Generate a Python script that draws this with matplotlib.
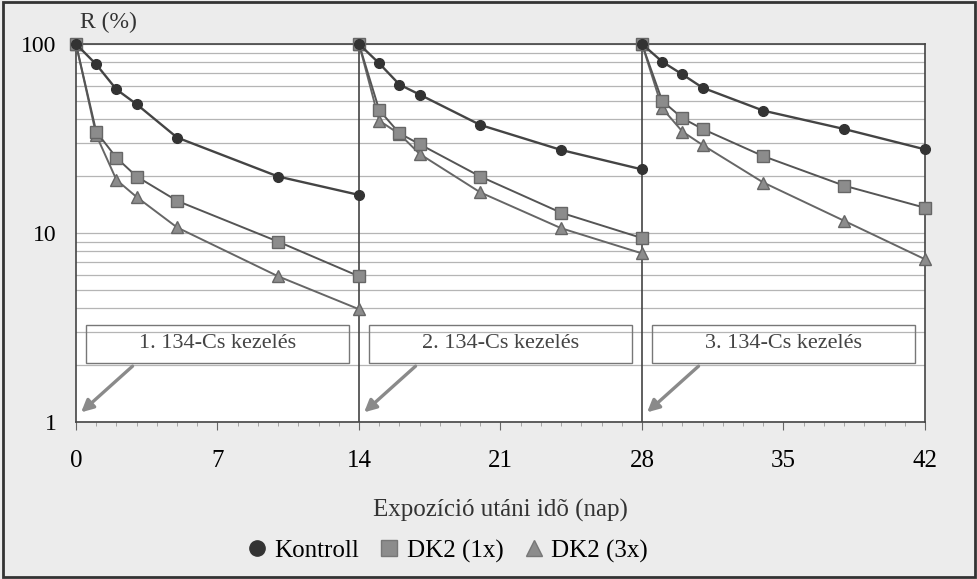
import matplotlib.pyplot as plt
import numpy as np
from matplotlib.patches import Rectangle
from matplotlib.ticker import FixedLocator, NullFormatter

# day of measurement (each treatment starts again at 100 %)
days = [0, 1, 2, 3, 5, 10, 14,
        14, 15, 16, 17, 20, 24, 28,
        28, 29, 30, 31, 34, 38, 42]
segments = [(0, 7), (7, 14), (14, 21)]

kontroll = [100, 78, 57.5, 48, 32, 19.9, 15.9,
            100, 79, 61, 54, 37.3, 27.5, 21.7,
            100, 80.6, 69, 58.7, 44.4, 35.5, 27.7]
dk2_1x = [100, 34.4, 25, 19.9, 14.8, 9.0, 5.9,
          100, 44.7, 33.7, 29.5, 19.9, 12.8, 9.4,
          100, 50, 40.5, 35.5, 25.5, 17.8, 13.6]
dk2_3x = [100, 33, 19.1, 15.5, 10.7, 5.9, 3.95,
          100, 39.3, 33.4, 26.2, 16.4, 10.6, 7.8,
          100, 45.7, 34.4, 29.2, 18.5, 11.6, 7.26]

box_labels = ["1. 134-Cs kezelés", "2. 134-Cs kezelés", "3. 134-Cs kezelés"]
box_starts = [0, 14, 28]

plt.rcParams['font.family'] = ['Liberation Serif', 'DejaVu Serif']

fig = plt.figure(figsize=(9.78, 5.79), dpi=100, facecolor='#ececec')
ax = fig.add_axes([76/978, 1-422/579, (925-76)/978, (422-44)/579])
ax.set_facecolor('white')

ax.set_yscale('log')
ax.set_ylim(1, 100)
ax.set_xlim(0, 42)

# gridlines at minor log positions
ax.yaxis.set_minor_locator(FixedLocator([k*10**e for e in (0, 1) for k in range(2, 10)]))
ax.yaxis.set_minor_formatter(NullFormatter())
ax.grid(True, which='both', axis='y', color='#b5b5b5', lw=0.9)
ax.set_yticks([1, 10, 100])
ax.set_yticklabels(['1', '10', '100'])
ax.tick_params(axis='y', which='both', length=0, labelsize=17, pad=14)

ax.set_xticks([0, 7, 14, 21, 28, 35, 42])
ax.xaxis.set_minor_locator(FixedLocator(range(0, 43)))
ax.tick_params(axis='x', which='major', length=6, color='#666', labelsize=18, pad=14)
ax.tick_params(axis='x', which='minor', length=3, color='#999')

for sp in ax.spines.values():
    sp.set_color('#444')
    sp.set_linewidth(1.2)

for xv in (14, 28):
    ax.axvline(xv, color='#444', lw=1.2)

d = np.array(days)
for a, b in segments:
    ax.plot(d[a:b], kontroll[a:b], color='#444', lw=1.7, marker='o', ms=7,
            mfc='#333', mec='#333', zorder=4, clip_on=False)
    ax.plot(d[a:b], dk2_3x[a:b], color='#666', lw=1.4, marker='^', ms=8,
            mfc='#8c8c8c', mec='#666', zorder=3, clip_on=False)
    ax.plot(d[a:b], dk2_1x[a:b], color='#555', lw=1.4, marker='s', ms=8,
            mfc='#8c8c8c', mec='#666', zorder=3, clip_on=False)

# treatment boxes and arrows
for lab, x0 in zip(box_labels, box_starts):
    ax.add_patch(Rectangle((x0 + 0.5, 2.05), 13.0, 3.26 - 2.05, fill=False,
                           ec='#777', lw=1.0, zorder=2))
    ax.text(x0 + 7, 2.6, lab, ha='center', va='center', fontsize=16, color='#444')
    ax.annotate('', xy=(x0 + 0.15, 1.1), xytext=(x0 + 2.9, 2.02),
                arrowprops=dict(arrowstyle='-|>', color='#8a8a8a', lw=2.4,
                                mutation_scale=18))

fig.text(80/978, 1-22/579, 'R (%)', fontsize=17, ha='left', va='center', color='#333')
fig.text(500/978, 1-510/579, 'Expozíció utáni idõ (nap)', fontsize=18,
         ha='center', va='center', color='#333')

h1, = ax.plot([], [], 'o', ms=11, mfc='#333', mec='#333', ls='none')
h2, = ax.plot([], [], 's', ms=11, mfc='#8c8c8c', mec='#777', ls='none')
h3, = ax.plot([], [], '^', ms=11, mfc='#8c8c8c', mec='#777', ls='none')
fig.legend([h1, h2, h3], ['Kontroll', 'DK2 (1x)', 'DK2 (3x)'], loc='center',
           bbox_to_anchor=(445/978, 1-551/579), ncol=3, frameon=False,
           fontsize=18, handletextpad=0.1, columnspacing=0.6, handlelength=1.2)

fig.patches.append(Rectangle((0.003, 0.004), 0.994, 0.992, transform=fig.transFigure,
                             fill=False, ec='#333', lw=2))

fig.savefig('out.png', dpi=100, facecolor=fig.get_facecolor())
